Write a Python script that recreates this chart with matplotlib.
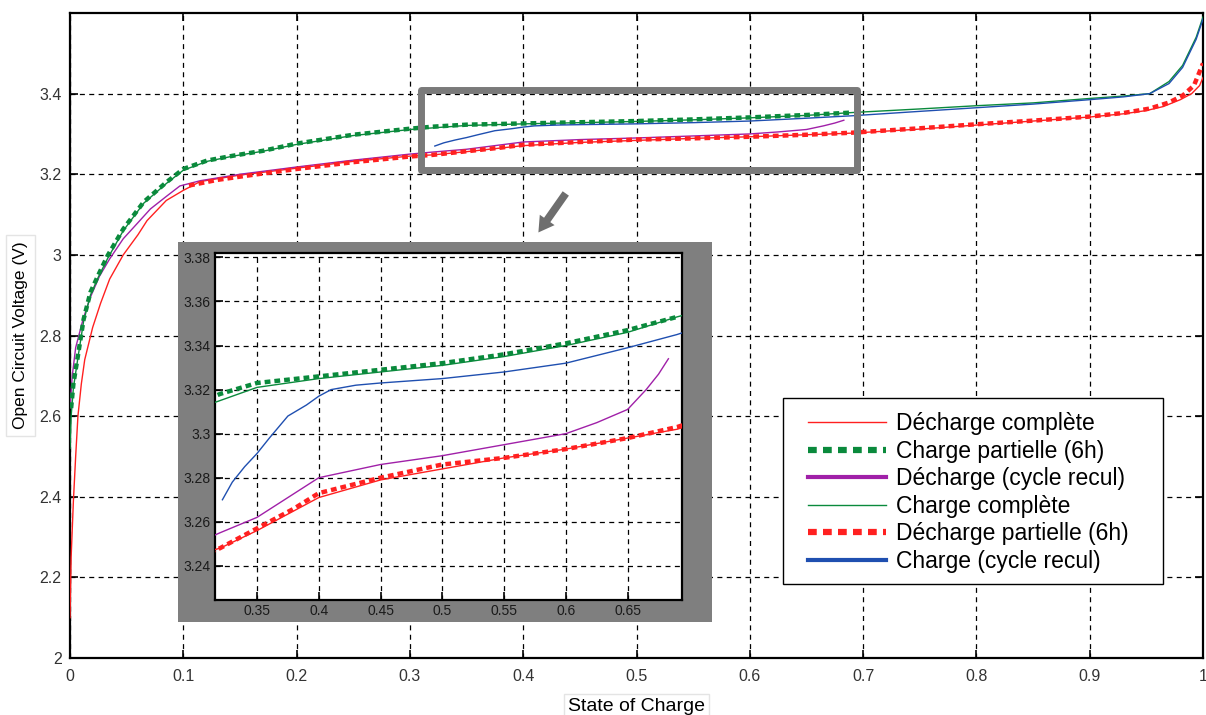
import matplotlib.pyplot as plt
from matplotlib.lines import Line2D
from matplotlib.patches import Rectangle

plt.rcParams['font.family'] = ['Liberation Sans', 'DejaVu Sans']

# --- data ---
soc_dc = [0, 0.001, 0.003, 0.005, 0.007, 0.01, 0.013, 0.02, 0.027, 0.035, 0.047, 0.06,
          0.068, 0.085, 0.1, 0.115, 0.15, 0.2, 0.25, 0.3, 0.32, 0.35, 0.4, 0.45, 0.5,
          0.55, 0.6, 0.65, 0.69, 0.75, 0.8, 0.85, 0.9, 0.93, 0.95, 0.965, 0.98, 0.99,
          0.997, 1.0]
v_dc = [2.10, 2.25, 2.39, 2.50, 2.60, 2.68, 2.74, 2.82, 2.88, 2.94, 3.00, 3.05,
        3.085, 3.135, 3.16, 3.182, 3.198, 3.215, 3.232, 3.245, 3.248, 3.256, 3.271,
        3.279, 3.284, 3.289, 3.293, 3.298, 3.302, 3.312, 3.322, 3.332, 3.342, 3.35,
        3.358, 3.368, 3.385, 3.40, 3.42, 3.44]

soc_cp = [0.001, 0.003, 0.007, 0.012, 0.018, 0.025, 0.033, 0.047, 0.065, 0.085, 0.1,
          0.121, 0.144, 0.17, 0.2, 0.25, 0.3, 0.32, 0.35, 0.4, 0.45, 0.5, 0.55, 0.6,
          0.65, 0.69]
v_cp = [2.62, 2.68, 2.75, 2.84, 2.907, 2.95, 2.997, 3.064, 3.131, 3.18, 3.213,
        3.234, 3.246, 3.258, 3.276, 3.298, 3.313, 3.318, 3.323, 3.326, 3.329, 3.332,
        3.336, 3.341, 3.347, 3.353]

soc_dr = [0, 0.002, 0.005, 0.0115, 0.018, 0.026, 0.035, 0.047, 0.06, 0.071, 0.085,
          0.097, 0.115, 0.15, 0.2, 0.25, 0.3, 0.32, 0.35, 0.4, 0.45, 0.5, 0.55, 0.6,
          0.625, 0.65, 0.665, 0.675, 0.683]
v_dr = [2.62, 2.70, 2.77, 2.84, 2.895, 2.947, 2.99, 3.04, 3.08, 3.114, 3.145, 3.171,
        3.184, 3.2, 3.218, 3.235, 3.25, 3.255, 3.262, 3.28, 3.286, 3.29, 3.295, 3.300,
        3.305, 3.311, 3.32, 3.327, 3.334]

soc_cc = [0, 0.001, 0.003, 0.007, 0.012, 0.018, 0.025, 0.033, 0.047, 0.065, 0.085,
          0.1, 0.121, 0.144, 0.17, 0.2, 0.25, 0.3, 0.35, 0.4, 0.45, 0.5, 0.55, 0.6,
          0.65, 0.69, 0.75, 0.8, 0.85, 0.9, 0.93, 0.953, 0.97, 0.982, 0.994, 1.0]
v_cc = [2.52, 2.6, 2.67, 2.745, 2.835, 2.9, 2.945, 2.99, 3.06, 3.128, 3.177, 3.21,
        3.232, 3.245, 3.257, 3.274, 3.296, 3.311, 3.321, 3.325, 3.328, 3.331, 3.335,
        3.34, 3.346, 3.353, 3.362, 3.37, 3.377, 3.388, 3.394, 3.40, 3.43, 3.47, 3.54,
        3.59]

soc_dp = [0.105, 0.13, 0.16, 0.2, 0.25, 0.3, 0.32, 0.35, 0.38, 0.4, 0.45, 0.5, 0.55,
          0.6, 0.65, 0.69, 0.75, 0.8, 0.85, 0.9, 0.93, 0.953, 0.97, 0.982, 0.992, 1.0]
v_dp = [3.172, 3.186, 3.198, 3.213, 3.23, 3.244, 3.248, 3.257, 3.266, 3.273, 3.28,
        3.286, 3.289, 3.293, 3.298, 3.303, 3.314, 3.324, 3.333, 3.343, 3.352, 3.363,
        3.378, 3.395, 3.42, 3.475]

soc_cr = [0.322, 0.33, 0.34, 0.35, 0.36, 0.375, 0.39, 0.4, 0.41, 0.43, 0.45, 0.5,
          0.55, 0.6, 0.65, 0.69, 0.75, 0.8, 0.85, 0.9, 0.93, 0.953, 0.97, 0.982, 0.994,
          1.0]
v_cr = [3.270, 3.278, 3.285, 3.291, 3.298, 3.308, 3.313, 3.317, 3.320, 3.322, 3.323,
        3.325, 3.328, 3.332, 3.339, 3.345, 3.356, 3.365, 3.374, 3.385, 3.392, 3.40,
        3.425, 3.465, 3.535, 3.585]

labels = ['Décharge complète', 'Charge partielle (6h)', 'Décharge (cycle recul)',
          'Charge complète', 'Décharge partielle (6h)', 'Charge (cycle recul)']

RED = '#ff2020'
GREEN = '#0a8a3c'
PURPLE = '#a020a8'
BLUE = '#1f4fb0'
DOT = (0, (1.3, 0.9))
GRID = dict(color='black', linestyle=(0, (4, 3.5)), linewidth=0.9)


def draw_curves(ax):
    ax.plot(soc_dc, v_dc, color=RED, lw=1.0, zorder=3)
    ax.plot(soc_cp, v_cp, color=GREEN, lw=3.2, linestyle=DOT, zorder=4)
    ax.plot(soc_dr, v_dr, color=PURPLE, lw=1.0, zorder=3)
    ax.plot(soc_cc, v_cc, color=GREEN, lw=1.0, zorder=3)
    ax.plot(soc_dp, v_dp, color=RED, lw=3.2, linestyle=DOT, zorder=4)
    ax.plot(soc_cr, v_cr, color=BLUE, lw=1.0, zorder=5)


def style_axes(ax, size):
    ax.grid(True, **GRID)
    ax.tick_params(direction='in', length=6, width=1.2, top=True, right=True,
                   labelsize=size, labelcolor='#333333')
    for s in ax.spines.values():
        s.set_linewidth(1.6)
    ax.set_axisbelow(True)


fig = plt.figure(figsize=(12.06, 7.15), dpi=100)
ax = fig.add_axes([70 / 1206, 1 - 658 / 715, 1133 / 1206, 645 / 715])
draw_curves(ax)
ax.set_xlim(0, 1)
ax.set_ylim(2, 3.6)
ax.set_xticks([i / 10 for i in range(11)])
ax.set_xticklabels(['0', '0.1', '0.2', '0.3', '0.4', '0.5', '0.6', '0.7', '0.8', '0.9', '1'])
ax.set_yticks([2, 2.2, 2.4, 2.6, 2.8, 3, 3.2, 3.4])
ax.set_yticklabels(['2', '2.2', '2.4', '2.6', '2.8', '3', '3.2', '3.4'])
style_axes(ax, 11.5)
ax.tick_params(axis='x', pad=8)
ax.tick_params(axis='y', pad=6)

ax.set_xlabel('State of Charge', fontsize=14, labelpad=10,
              bbox=dict(facecolor='white', edgecolor='#e4e4e4', pad=3))
ax.set_ylabel('Open Circuit Voltage (V)', fontsize=12.5, labelpad=8,
              bbox=dict(facecolor='white', edgecolor='#e4e4e4', pad=5))

# zoom rectangle and arrow
ax.add_patch(Rectangle((0.31, 3.21), 0.385, 0.198, fill=False, edgecolor='#7a7a7a',
                       lw=5, zorder=6, joinstyle='round'))
ax.annotate('', xy=(0.412, 3.05), xytext=(0.439, 3.158),
            arrowprops=dict(arrowstyle='simple,head_width=1.3,head_length=1.1,tail_width=0.55',
                            color='#6e6e6e', lw=0))

# legend: own frame, entries placed inside it
fig.patches.append(Rectangle((783 / 1206, 1 - 584 / 715), 380 / 1206, 186 / 715,
                             transform=fig.transFigure, facecolor='white',
                             edgecolor='black', lw=1.0, zorder=9))
handles = [
    Line2D([], [], color=RED, lw=1.0),
    Line2D([], [], color=GREEN, lw=4.5, linestyle=(0, (1.4, 1.0))),
    Line2D([], [], color=PURPLE, lw=3.0),
    Line2D([], [], color=GREEN, lw=1.0),
    Line2D([], [], color=RED, lw=4.5, linestyle=(0, (1.4, 1.0))),
    Line2D([], [], color=BLUE, lw=3.0),
]
leg = fig.legend(handles, labels, loc='upper left', bbox_to_anchor=(808 / 1206, 1 - 412 / 715),
                 borderaxespad=0, borderpad=0, fontsize=16.5, handlelength=3.4,
                 labelspacing=0.2, frameon=False, handletextpad=0.45)
leg.set_zorder(10)

# inset: grey frame then zoomed axes
frame = fig.add_axes([178 / 1206, 1 - 622 / 715, 534 / 1206, 380 / 715])
frame.set_facecolor('#7f7f7f')
frame.set_xticks([])
frame.set_yticks([])
for s in frame.spines.values():
    s.set_visible(False)

axin = fig.add_axes([215 / 1206, 1 - 600 / 715, 467 / 1206, 347 / 715])
draw_curves(axin)
axin.set_xlim(0.316, 0.694)
axin.set_ylim(3.2245, 3.382)
axin.set_xticks([0.35, 0.4, 0.45, 0.5, 0.55, 0.6, 0.65])
axin.set_xticklabels(['0.35', '0.4', '0.45', '0.5', '0.55', '0.6', '0.65'])
axin.set_yticks([3.24, 3.26, 3.28, 3.30, 3.32, 3.34, 3.36, 3.38])
axin.set_yticklabels(['3.24', '3.26', '3.28', '3.3', '3.32', '3.34', '3.36', '3.38'])
style_axes(axin, 10)
axin.tick_params(labelcolor='#1a1a1a', pad=3, top=False, right=False)

fig.savefig('out.png', dpi=100)
